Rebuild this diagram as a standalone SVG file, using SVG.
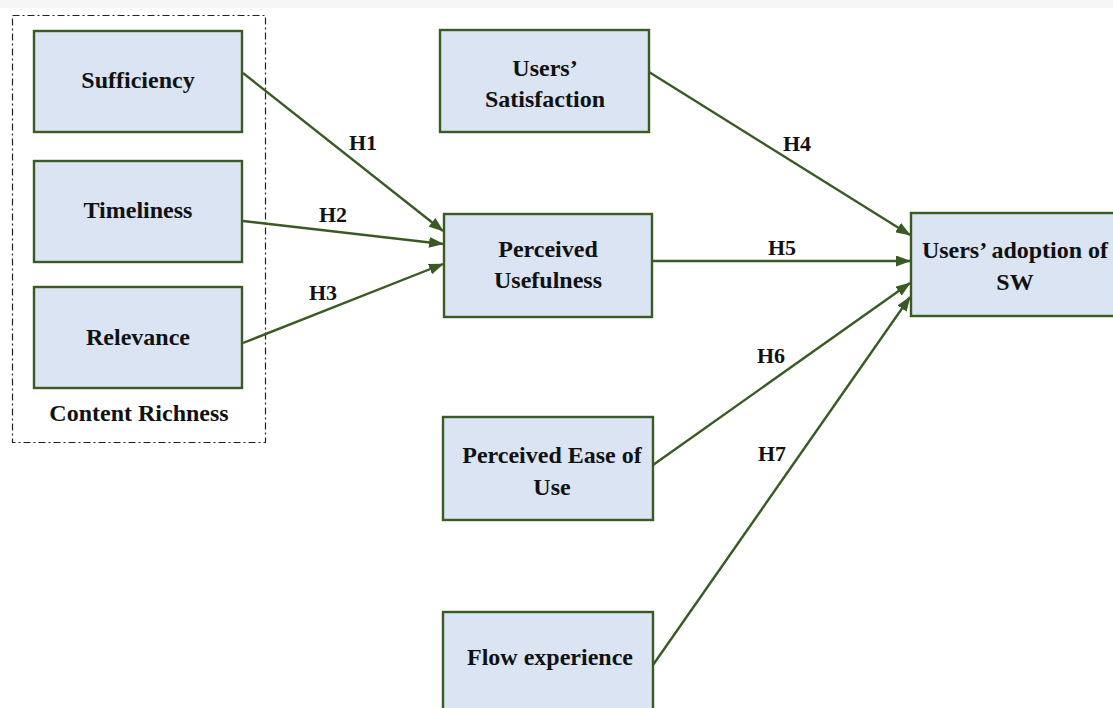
<svg xmlns="http://www.w3.org/2000/svg" width="1113" height="708" viewBox="0 0 1113 708">
<style>
.box{fill:#dae4f3;stroke:#3a5a24;stroke-width:2.4}
.t{font-family:"Liberation Serif","Times New Roman",serif;font-weight:bold;font-size:24px;fill:#111;text-anchor:middle}
.h{font-size:22px}
.c{stroke:#3a5a24;stroke-width:2.4;fill:none;marker-end:url(#ah)}
</style>
<defs>
<marker id="ah" markerWidth="15" markerHeight="11" refX="14" refY="5.5" orient="auto" markerUnits="userSpaceOnUse">
<path d="M0,0 L15,5.5 L0,11 Z" fill="#3a5a24"/>
</marker>
</defs>
<rect x="0" y="0" width="1113" height="708" fill="#ffffff"/>
<rect x="0" y="0" width="1113" height="8" fill="#f6f6f6"/>
<g id="content-richness">
<rect x="12.5" y="15.5" width="253" height="427" fill="none" stroke="#222" stroke-width="1.2" stroke-dasharray="7,3,2,3"/>
<text class="t" x="139" y="421">Content Richness</text>
</g>
<g id="sufficiency"><rect class="box" x="34" y="31" width="208" height="101"/><text class="t" x="138" y="88">Sufficiency</text></g>
<g id="timeliness"><rect class="box" x="34" y="161" width="208" height="101"/><text class="t" x="138" y="218">Timeliness</text></g>
<g id="relevance"><rect class="box" x="34" y="287" width="208" height="101"/><text class="t" x="138" y="345">Relevance</text></g>
<g id="users-satisfaction"><rect class="box" x="440" y="30" width="209" height="102"/><text class="t" x="545" y="76">Users’</text><text class="t" x="545" y="107">Satisfaction</text></g>
<g id="perceived-usefulness"><rect class="box" x="444" y="214" width="208" height="103"/><text class="t" x="548" y="257">Perceived</text><text class="t" x="548" y="288">Usefulness</text></g>
<g id="users-adoption"><rect class="box" x="911" y="213" width="210" height="103"/><text class="t" x="1015" y="258">Users’ adoption of</text><text class="t" x="1015" y="290">SW</text></g>
<g id="perceived-ease"><rect class="box" x="443" y="417" width="210" height="103"/><text class="t" x="552" y="463">Perceived Ease of</text><text class="t" x="552" y="495">Use</text></g>
<g id="flow-experience"><rect class="box" x="443" y="612" width="210" height="110"/><text class="t" x="550" y="665">Flow experience</text></g>
<g id="connectors">
<line class="c" x1="243" y1="73" x2="443" y2="231"/>
<line class="c" x1="243" y1="221" x2="443" y2="244"/>
<line class="c" x1="243" y1="343" x2="443" y2="264"/>
<line class="c" x1="649" y1="72" x2="910" y2="235"/>
<line class="c" x1="653" y1="261" x2="910" y2="261"/>
<line class="c" x1="653" y1="465" x2="910" y2="283"/>
<line class="c" x1="653" y1="665" x2="910" y2="297"/>
<text class="t h" x="363" y="150">H1</text>
<text class="t h" x="333" y="222">H2</text>
<text class="t h" x="323" y="300">H3</text>
<text class="t h" x="797" y="151">H4</text>
<text class="t h" x="782" y="255">H5</text>
<text class="t h" x="771" y="363">H6</text>
<text class="t h" x="772" y="461">H7</text>
</g>
</svg>
